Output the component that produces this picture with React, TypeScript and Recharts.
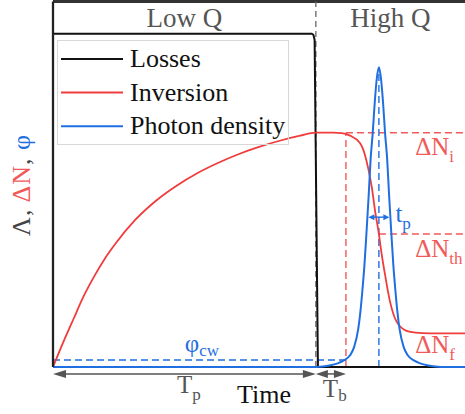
import React from 'react';
import {
  ComposedChart,
  Line,
  XAxis,
  YAxis,
  ReferenceLine,
  ReferenceArea,
  ReferenceDot,
  Legend,
} from 'recharts';

const FONT = 'Liberation Serif';
const RED = '#f03c3c';
const RED_L = '#f25a5a';
const BLUE = '#1f6fe0';
const GRAY = '#555555';
const BLACK = '#111111';

// ---- data (time in arbitrary units 0..100, levels 0..100) ----
const lossT = [0, 62.8, 63.2, 63.5, 64.3, 100];
const lossV = [91.2, 91.2, 90.9, 89.5, 0, 0];

const invT = [0, 2.5, 5, 7.5, 10, 12.5, 15, 20, 25, 30, 35, 40, 45, 50, 55, 60, 63.8, 66, 68, 70, 72.1, 74.5, 75.7, 76.5, 77.4, 78.2, 79.0, 79.8, 80.6, 81.8, 83.4, 85.8, 88, 91.5, 100];
const invV = [0, 6.8, 13.2, 19.5, 24.8, 29.5, 33.5, 40.3, 45.5, 49.6, 53.0, 55.8, 58.2, 60.2, 61.9, 63.3, 64.1, 64.1, 64.1, 64.0, 63.3, 61.3, 58.1, 54.4, 49.0, 42.5, 37.1, 30.7, 25.2, 17.9, 12.4, 9.9, 9.4, 9.2, 9.2];

const phoT = [0, 64.1, 67.1, 69.1, 70.6, 72.1, 73.1, 74.1, 74.6, 75.1, 75.6, 76.1, 76.6, 77.1, 77.6, 78.1, 78.6, 79.1, 79.6, 80.1, 80.6, 81.1, 81.6, 82.1, 82.6, 83.1, 83.6, 84.1, 85.1, 86.1, 87.6, 89.1, 91.1, 94.1, 100];
const phoV = [0, 0, 0.4, 1, 1.8, 3.2, 5.5, 10.5, 15, 21, 28, 37, 46.5, 57, 64, 72.5, 79, 82, 79, 72.5, 64, 57, 46.5, 37, 28, 21, 15, 10.5, 5.5, 3.2, 1.8, 1, 0.4, 0, 0];

const seriesNames = ['Losses', 'Inversion', 'Photon density'];
const seriesColors = [BLACK, RED, BLUE];
const regionLabels = ['Low Q', 'High Q'];
const xLabel = 'Time';

// key levels / instants
const T_SWITCH = 63.8;
const T_BUILD = 71.1;
const T_PEAK = 79.1;
const T_END = 100;
const N_I = 64.1;
const N_TH = 36.4;
const N_F = 9.2;
const PHI_CW = 1.9;
const LOSS_HIGH = 91.2;
const PEAK = 82;
const HALF = 41;
const TP_L = 76.55;
const TP_R = 81.65;
const ARROW_V = -1.9;
const LABEL_T = 87.9;

const zip = (ts: number[], vs: number[]) => ts.map((t, i) => ({ t, v: vs[i] }));
const lossData = zip(lossT, lossV);
const invData = zip(invT, invV);
const phoData = zip(phoT, phoV);

const Ann = (props: any) => {
  const { viewBox, main, sub, color, dx = 0, dy = 0, size = 25, subSize = 17, subDy = 7 } = props;
  const x = (viewBox?.x ?? 0) + dx;
  const y = (viewBox?.y ?? 0) + dy;
  return (
    <text x={x} y={y} fill={color} fontSize={size} fontFamily={FONT}>
      {main}
      {sub ? (
        <tspan fontSize={subSize} dy={subDy}>
          {sub}
        </tspan>
      ) : null}
    </text>
  );
};

const arrowShape = (head: number, halfW: number) => (p: any) => {
  const { x1, y1, x2, y2, stroke, strokeWidth } = p;
  const a = Math.min(x1, x2);
  const b = Math.max(x1, x2);
  const y = y1;
  return (
    <g>
      <line x1={a + head * 0.6} y1={y} x2={b - head * 0.6} y2={y2} stroke={stroke} strokeWidth={strokeWidth} />
      <polygon points={`${a},${y} ${a + head},${y - halfW} ${a + head},${y + halfW}`} fill={stroke} />
      <polygon points={`${b},${y} ${b - head},${y - halfW} ${b - head},${y + halfW}`} fill={stroke} />
    </g>
  );
};

const YLabel = () => {
  const cx = 30;
  const cy = 185;
  return (
    <text x={cx} y={cy} transform={`rotate(-90, ${cx}, ${cy})`} textAnchor="middle" fontSize={26} letterSpacing={1} fontFamily={FONT}>
      <tspan fill="#444">Λ, </tspan>
      <tspan fill={RED_L}>ΔN</tspan>
      <tspan fill="#444">, </tspan>
      <tspan fill={BLUE}>φ</tspan>
    </text>
  );
};

const XLabel = () => (
  <text x={264} y={403} textAnchor="middle" fontSize={26} fontFamily={FONT} fill={BLACK}>
    {xLabel}
  </text>
);

const HeaderLabel = (props: any) => {
  const { viewBox, text } = props;
  const x = viewBox.x + viewBox.width / 2;
  const y = viewBox.y + viewBox.height / 2;
  return (
    <text x={x} y={y + 9} textAnchor="middle" fontSize={27} fontFamily={FONT} fill={GRAY}>
      {text}
    </text>
  );
};

const LegendBox = (props: any) => {
  const payload = props.payload && props.payload.length ? props.payload : [];
  const items = seriesNames.map((n, i) => {
    const p = payload.find((q: any) => q.value === n);
    return { name: n, color: p?.color ?? seriesColors[i] };
  });
  return (
    <div
      style={{
        width: 232,
        height: 105,
        boxSizing: 'border-box',
        border: '1px solid #d8d8d8',
        background: 'transparent',
        fontFamily: FONT,
      }}
    >
      <svg width={230} height={103} style={{ display: 'block' }}>
        {items.map((it, i) => {
          const y = 18 + i * 33.6;
          return (
            <g key={it.name}>
              <line x1={3} x2={65} y1={y} y2={y} stroke={it.color} strokeWidth={2} />
              <text x={72} y={y + 8} fontSize={26} fontFamily={FONT} fill={BLACK}>
                {it.name}
              </text>
            </g>
          );
        })}
      </svg>
    </div>
  );
};

export default function App() {
  return (
    <div style={{ position: 'absolute', left: 0, top: 0, background: '#fff', fontFamily: FONT }}>
      <ComposedChart width={465} height={414} margin={{ top: 1.5, right: 0, bottom: 0, left: 0 }}>
        <XAxis
          type="number"
          dataKey="t"
          domain={[0, T_END]}
          height={47}
          tick={false}
          tickLine={false}
          axisLine={false}
          label={{ content: <XLabel /> } as any}
        />
        <YAxis
          type="number"
          domain={[0, 100]}
          width={53}
          tick={false}
          tickLine={false}
          axisLine={{ stroke: '#222', strokeWidth: 2.3 }}
          label={{ content: <YLabel /> } as any}
        />
        <ReferenceArea x1={0} x2={T_SWITCH} y1={LOSS_HIGH} y2={100} fill="none" stroke="none" ifOverflow="visible" label={<HeaderLabel text={regionLabels[0]} />} />
        <ReferenceArea x1={T_SWITCH} x2={T_END} y1={LOSS_HIGH} y2={100} fill="none" stroke="none" ifOverflow="visible" label={<HeaderLabel text={regionLabels[1]} />} />

        <ReferenceLine segment={[{ x: 0, y: 100 }, { x: T_END, y: 100 }]} stroke="#333" strokeWidth={3} ifOverflow="visible" />
        <ReferenceLine segment={[{ x: T_SWITCH, y: 0 }, { x: T_SWITCH, y: 100 }]} stroke="#666" strokeWidth={1.3} strokeDasharray="6 4" ifOverflow="visible" />
        <ReferenceLine segment={[{ x: T_BUILD, y: N_I }, { x: T_END, y: N_I }]} stroke={RED_L} strokeWidth={1.4} strokeDasharray="7 4" ifOverflow="visible" />
        <ReferenceLine segment={[{ x: T_BUILD, y: 0 }, { x: T_BUILD, y: N_I }]} stroke={RED_L} strokeWidth={1.4} strokeDasharray="7 4" ifOverflow="visible" />
        <ReferenceLine segment={[{ x: T_PEAK, y: N_TH }, { x: T_END, y: N_TH }]} stroke={RED_L} strokeWidth={1.4} strokeDasharray="7 4" ifOverflow="visible" />
        <ReferenceLine segment={[{ x: T_PEAK, y: 0 }, { x: T_PEAK, y: PEAK }]} stroke={BLUE} strokeWidth={1.4} strokeDasharray="7 4" ifOverflow="visible" />
        <ReferenceLine segment={[{ x: 0, y: PHI_CW }, { x: T_BUILD, y: PHI_CW }]} stroke={BLUE} strokeWidth={1.4} strokeDasharray="7 4" ifOverflow="visible" />

        <Line data={lossData} dataKey="v" name={seriesNames[0]} type="linear" stroke={seriesColors[0]} strokeWidth={2} dot={false} activeDot={false} isAnimationActive={false} />
        <Line data={invData} dataKey="v" name={seriesNames[1]} type="monotone" stroke={seriesColors[1]} strokeWidth={1.8} dot={false} activeDot={false} isAnimationActive={false} />
        <Line data={phoData} dataKey="v" name={seriesNames[2]} type="monotone" stroke={seriesColors[2]} strokeWidth={2} dot={false} activeDot={false} isAnimationActive={false} />

        <ReferenceLine segment={[{ x: 0, y: ARROW_V }, { x: T_SWITCH, y: ARROW_V }]} stroke={GRAY} strokeWidth={1.5} ifOverflow="visible" shape={arrowShape(13, 4)} />
        <ReferenceLine segment={[{ x: T_SWITCH, y: ARROW_V }, { x: T_BUILD, y: ARROW_V }]} stroke={GRAY} strokeWidth={1.5} ifOverflow="visible" shape={arrowShape(12, 4)} />
        <ReferenceLine segment={[{ x: TP_L, y: HALF }, { x: TP_R, y: HALF }]} stroke={BLUE} strokeWidth={1.4} ifOverflow="visible" shape={arrowShape(6, 3)} />

        <ReferenceDot x={LABEL_T} y={N_I} r={0} fill="none" stroke="none" ifOverflow="visible" label={<Ann main="ΔN" sub="i" color={RED_L} dy={22} />} />
        <ReferenceDot x={LABEL_T} y={N_TH} r={0} fill="none" stroke="none" ifOverflow="visible" label={<Ann main="ΔN" sub="th" color={RED_L} dy={23} />} />
        <ReferenceDot x={LABEL_T} y={N_F} r={0} fill="none" stroke="none" ifOverflow="visible" label={<Ann main="ΔN" sub="f" color={RED_L} dy={20} />} />
        <ReferenceDot x={TP_R} y={HALF} r={0} fill="none" stroke="none" ifOverflow="visible" label={<Ann main="t" sub="p" color={BLUE} dx={6} dy={5} />} />
        <ReferenceDot x={32} y={PHI_CW} r={0} fill="none" stroke="none" ifOverflow="visible" label={<Ann main="φ" sub="cw" color={BLUE} dy={-8} subDy={4} />} />
        <ReferenceDot x={30.1} y={ARROW_V} r={0} fill="none" stroke="none" ifOverflow="visible" label={<Ann main="T" sub="p" color={GRAY} dy={19} />} />
        <ReferenceDot x={65.5} y={ARROW_V} r={0} fill="none" stroke="none" ifOverflow="visible" label={<Ann main="T" sub="b" color={GRAY} dy={23} subDy={4} />} />

        <Legend
          layout="horizontal"
          verticalAlign="middle"
          align="center"
          content={<LegendBox />}
          wrapperStyle={{ position: 'absolute', left: 57, top: 40, width: 232, height: 105 }}
        />
      </ComposedChart>
    </div>
  );
}
